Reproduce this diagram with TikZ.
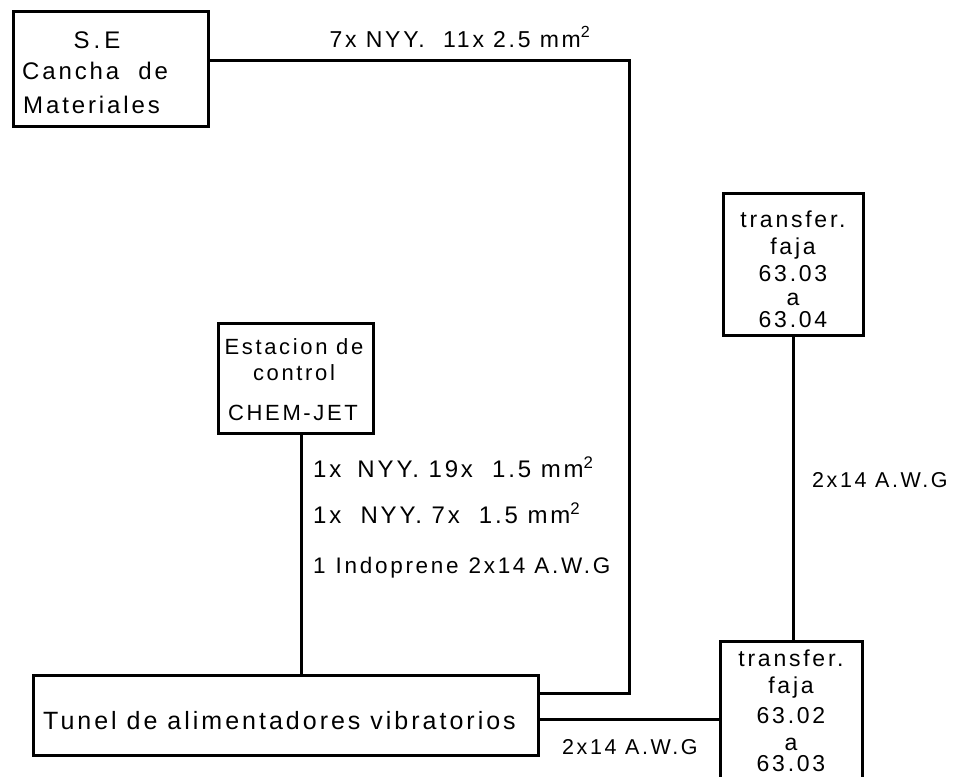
\documentclass[tikz,border=0pt]{standalone}
\usepackage{fontspec}
\setmainfont{Liberation Sans}
\newfontfamily\wide[LetterSpace=12]{Liberation Sans}
\begin{document}
\begin{tikzpicture}[x=1pt,y=-1pt,
  box/.style={draw,line width=3pt,rectangle,inner sep=0pt},
  wire/.style={line width=3pt},
  txt/.style={inner sep=0pt,align=center},
  lbl/.style={inner sep=0pt,anchor=west},
  every node/.style={font=\wide\fontsize{24}{28}\selectfont}]
\useasboundingbox (0,0) rectangle (957,776);
\clip (0,0) rectangle (957,776);
% boxes
\node[box,minimum width=195pt,minimum height=114pt] (se) at (110.5,69) {};
\node[txt] (setxt1) at (97,40) {S\,.\,E};
\node[txt,anchor=west] (setxt2) at (22,71) {Cancha\ \ de};
\node[txt,anchor=west] (setxt3) at (23,105) {Materiales};

\node[box,minimum width=155pt,minimum height=110pt] (est) at (295.5,378) {};
\node[txt,font=\wide\fontsize{22}{26}\selectfont] (esttxt) at (294,360) {Estacion de\\control};
\node[txt,font=\wide\fontsize{22}{26}\selectfont] (esttxt2) at (293,413) {CHEM-JET};

\node[box,minimum width=140pt,minimum height=142pt] (t1) at (793,264) {};
\node[txt,font=\wide\fontsize{23}{27}\selectfont] (t1txt) at (793,269)
  {transfer.\\faja\\63.03\\[-3pt]a\\[-5pt]63.04};

\node[box,minimum width=142pt,minimum height=160pt] (t2) at (791,721) {};
\node[txt,font=\wide\fontsize{23}{27}\selectfont,anchor=north] (t2txt) at (791,650)
  {transfer.\\faja\\[3pt]63.02\\a\\[-6pt]63.03};

\node[box,minimum width=505pt,minimum height=80pt] (tun) at (285.5,715) {};
\node[lbl,font=\wide\fontsize{25}{28}\selectfont] (tuntxt) at (43,721) {Tunel de alimentadores vibratorios};

% bends
\coordinate (b1) at (629,60);
\coordinate (b2) at (629,693);
\coordinate (tj) at (540,719);
\coordinate (ej) at (301,433);
% wires
\draw[wire] (se.east |- b1) -- (b1) -- (b2) -- (b2 -| tun.east);
\draw[wire] (ej) -- (ej |- tun.north);
\draw[wire] (tun.east |- tj) -- (tj -| t2.west);
\draw[wire] (t1.south) -- (t1.south |- t2.north);
% labels
\node[txt,font=\wide\fontsize{23}{28}\selectfont] (l1) at (460,37) {7x NYY.\ \ 11x 2.5 mm\textsuperscript{2}};
\node[lbl] (l2) at (313,467) {1x\hspace{16pt}NYY.\ 19x\ \ 1.5\ mm\textsuperscript{2}};
\node[lbl] (l3) at (313,513) {1x\ \ NYY. 7x\ \ 1.5 mm\textsuperscript{2}};
\node[lbl,font=\wide\fontsize{22.5}{28}\selectfont] (l4) at (313,568) {1\hspace{10pt}Indoprene\hspace{10pt}2x14 A.W.G};
\node[lbl,font=\wide\fontsize{21.5}{28}\selectfont] (l5) at (812,480) {2x14 A.W.G};
\node[lbl,font=\wide\fontsize{21.5}{28}\selectfont] (l6) at (562,747) {2x14 A.W.G};
\end{tikzpicture}
\end{document}
